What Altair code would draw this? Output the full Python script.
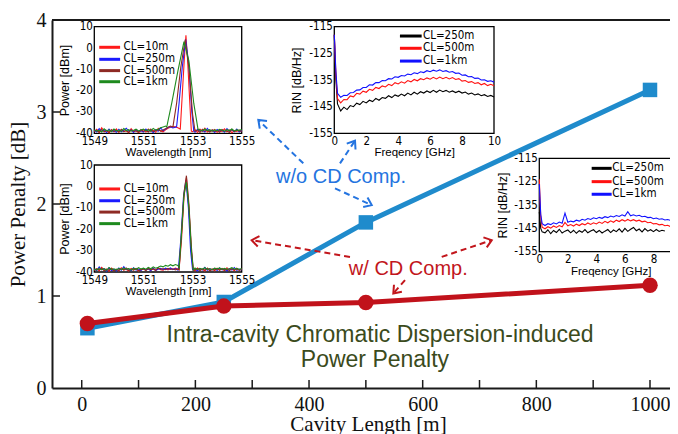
import math
import altair as alt
import pandas as pd

SERIF = "'Liberation Serif', 'Times New Roman', serif"
SANS = "'Liberation Sans', Arial, sans-serif"
NARROW = "'Liberation Sans Narrow', 'Arial Narrow', 'DejaVu Sans Condensed', 'Liberation Sans', sans-serif"

BLUE = "#1f8bcc"
RED = "#c1121b"
BLUE_T = "#2474e0"
RED_T = "#c2161c"
GREEN_T = "#3b4b1c"

# ---------------- main chart data ----------------
cavity_len = [10, 250, 500, 1000]
penalty_wo = [0.65, 0.935, 1.80, 3.24]
penalty_w = [0.70, 0.89, 0.93, 1.116]

x_ticks = [0, 100, 200, 300, 400, 500, 600, 700, 800, 900, 1000]
x_labels = [0, 200, 400, 600, 800, 1000]
y_labels = [0, 1, 2, 3, 4]
y_ticks = [1, 2, 3]

comp_text = ["w/o CD Comp.", "w/ CD Comp."]
comp_x = [456.3, 574.7]
comp_y = [2.224, 1.226]
comp_color = [BLUE_T, RED_T]

center_text = ["Intra-cavity Chromatic Dispersion-induced", "Power Penalty"]
center_x = [525, 516]
center_y = [0.50, 0.228]

arrow_x0 = [389.9, 454.5, 445.7, 472.1, 633.5, 568.9]
arrow_y0 = [2.442, 2.442, 2.170, 1.425, 1.425, 1.172]
arrow_x1 = [310.8, 480.9, 510.3, 299.1, 721.5, 548.3]
arrow_y1 = [2.913, 2.688, 1.988, 1.607, 1.607, 1.027]
arrow_col = [BLUE_T, BLUE_T, BLUE_T, RED_T, RED_T, RED_T]

# ---------------- optical spectra insets ----------------
wl = [round(1549 + 0.1 * i, 1) for i in range(61)]
spec_series = ["CL=10m", "CL=250m", "CL=500m", "CL=1km"]
spec_colors = ["#ff1a1a", "#1a1aff", "#8e2a24", "#1e8a1e"]

s1_floor_red = [-39.2,-38.1,-39.6,-37.4,-39.0,-38.6,-39.8,-38.2,-39.3,-37.9,
                -39.5,-38.4,-39.1,-38.8,-39.7,-37.8,-39.2,-38.5,-39.6,-38.9,
                -38.3,-39.4,-38.0,-39.1,-38.6,-39.5,-37.7,-38.9,-39.3,-38.4,
                -37.6,-37.2,-36.8,-37.0,-37.4,-38.5,-39.0,-38.8,-39.4,-38.1,
                -39.2,-38.3,-39.6,-38.0,-39.1,-37.6,-39.4,-38.7,-39.0,-38.2,
                -39.5,-38.6,-39.2,-37.9,-39.3,-38.4,-39.7,-38.8,-39.1,-38.5,
                -39.0]
s1_floor_blue = [-38.6,-39.4,-37.8,-39.1,-38.3,-39.7,-38.0,-39.2,-38.7,-39.5,
                 -38.1,-39.3,-38.6,-37.6,-39.0,-38.4,-39.6,-38.2,-39.1,-38.8,
                 -39.4,-38.0,-39.2,-38.5,-39.7,-38.3,-39.0,-37.5,-38.8,-38.0,
                 -37.3,-36.9,-37.5,-37.1,-36.8,-37.6,-38.4,-39.1,-38.6,-39.3,
                 -38.4,-39.5,-38.1,-39.0,-38.7,-39.4,-37.7,-39.2,-38.5,-39.6,
                 -38.2,-39.0,-38.6,-39.5,-37.8,-39.1,-38.4,-39.3,-38.0,-39.4,
                 -38.7]
s1_floor_brown = [-39.0,-38.5,-39.6,-38.2,-39.3,-38.8,-39.5,-38.4,-39.1,-38.6,
                  -39.4,-38.1,-39.2,-38.7,-39.6,-38.3,-39.0,-38.9,-39.5,-38.2,
                  -39.1,-38.6,-39.4,-38.0,-39.2,-38.7,-38.3,-39.0,-38.4,-37.9,
                  -37.2,-36.6,-36.3,-36.7,-37.0,-37.5,-38.6,-39.0,-38.5,-39.2,
                  -38.8,-39.3,-38.5,-39.6,-38.1,-39.0,-38.6,-39.4,-38.3,-39.1,
                  -38.7,-39.5,-38.2,-39.0,-38.8,-39.6,-38.1,-39.2,-38.5,-39.0,
                  -38.9]
s1_floor_green = [-38.3,-39.0,-38.6,-39.4,-37.9,-38.8,-38.4,-39.2,-38.0,-38.9,
                  -38.5,-39.1,-37.8,-38.7,-38.3,-39.0,-38.6,-38.1,-38.9,-38.4,
                  -38.0,-38.8,-38.3,-38.9,-37.7,-38.5,-38.1,-37.4,-37.0,-36.6,
                  -36.9,-37.4,-37.9,-38.3,-38.6,-38.9,-39.2,-38.5,-39.0,-38.4,
                  -38.8,-38.2,-39.1,-38.5,-38.9,-38.0,-38.7,-38.3,-39.0,-38.4,
                  -38.8,-38.1,-38.6,-39.0,-38.3,-38.7,-38.0,-38.9,-38.4,-38.6,
                  -38.2]
s1_peak_x = [[1552.50,1552.58,1552.66,1552.73,1552.80,1552.88,1552.95],
             [1552.35,1552.45,1552.58,1552.72,1552.85,1552.97,1553.05],
             [1552.20,1552.35,1552.52,1552.70,1552.86,1553.00,1553.10],
             [1551.95,1552.15,1552.40,1552.65,1552.85,1553.05,1553.22]]
s1_peak_y = [[-38,-22,-6,6,-6,-24,-39],
             [-37,-26,-9,4,-8,-30,-39],
             [-37,-26,-9,4,-10,-31,-39],
             [-37,-26,-11,3,-6,-26,-38]]

s2_floor_red = [-39.1,-38.4,-39.5,-37.8,-39.0,-38.6,-39.6,-38.2,-39.2,-38.9,
                -39.4,-38.0,-39.1,-38.7,-39.5,-38.3,-39.0,-38.5,-39.6,-38.8,
                -38.4,-39.2,-38.1,-39.0,-38.6,-39.3,-38.2,-38.9,-39.1,-38.5,
                -39.0,-38.4,-38.8,-38.2,-38.6,-39.0,-38.7,-39.3,-38.5,-39.1,
                -38.4,-39.4,-38.1,-39.0,-38.7,-39.5,-38.3,-39.2,-38.6,-39.4,
                -38.2,-39.0,-38.7,-39.3,-38.0,-39.1,-38.5,-39.4,-38.2,-39.0,
                -38.6]
s2_floor_blue = [-38.7,-39.3,-37.6,-39.0,-38.4,-39.6,-38.1,-39.3,-38.8,-39.5,
                 -38.2,-39.2,-37.5,-38.9,-38.5,-39.4,-38.0,-39.1,-38.6,-39.3,
                 -38.3,-39.0,-38.6,-39.4,-38.1,-39.2,-38.7,-38.3,-38.9,-38.2,
                 -38.7,-38.1,-38.9,-38.4,-39.1,-38.5,-39.0,-38.6,-39.4,-38.2,
                 -39.0,-38.6,-39.5,-38.3,-39.1,-37.8,-39.2,-38.5,-39.0,-38.3,
                 -39.3,-38.1,-39.0,-38.6,-39.5,-38.4,-39.1,-37.9,-39.2,-38.6,
                 -39.0]
s2_floor_brown = [-39.3,-38.6,-39.0,-38.2,-39.4,-38.8,-39.1,-38.4,-39.5,-38.7,
                  -39.2,-38.5,-39.0,-38.1,-39.3,-38.7,-39.1,-38.3,-39.4,-38.9,
                  -38.6,-39.3,-38.4,-39.0,-38.5,-39.2,-38.0,-38.8,-38.4,-38.9,
                  -38.3,-38.8,-38.5,-39.0,-38.6,-39.2,-38.8,-39.1,-38.6,-39.3,
                  -38.7,-39.0,-38.4,-39.3,-38.6,-39.1,-38.2,-39.4,-38.8,-39.0,
                  -38.5,-39.2,-38.3,-39.1,-38.7,-39.3,-38.4,-39.0,-38.6,-39.2,
                  -38.8]
s2_floor_green = [-38.5,-39.1,-38.2,-38.9,-38.4,-39.2,-37.9,-38.8,-38.5,-39.0,
                  -38.3,-38.9,-38.1,-38.7,-38.4,-39.1,-38.2,-38.8,-38.0,-38.6,
                  -38.2,-38.7,-37.9,-38.5,-37.6,-38.2,-37.8,-37.2,-37.6,-36.9,
                  -37.3,-36.6,-37.1,-36.5,-36.9,-37.0,-36.8,-37.3,-37.8,-38.3,
                  -38.6,-38.1,-38.9,-38.3,-38.7,-38.0,-38.8,-38.4,-38.9,-38.2,
                  -38.6,-38.1,-38.8,-38.3,-38.7,-38.5,-38.0,-38.7,-38.3,-38.8,
                  -38.4]
s2_peak_x = [[1552.45,1552.55,1552.65,1552.75,1552.85,1552.95,1553.02],
             [1552.42,1552.52,1552.63,1552.73,1552.83,1552.92,1553.00],
             [1552.45,1552.55,1552.65,1552.75,1552.85,1552.95,1553.03],
             [1552.45,1552.55,1552.65,1552.75,1552.85,1552.95,1553.03]]
s2_peak_y = [[-39,-25,-5,4,-10,-30,-39],
             [-39,-25,-5,3,-10,-30,-39],
             [-39,-22,-3,5,-8,-28,-39],
             [-38,-22,-4,2,-10,-30,-39]]

# ---------------- RIN insets ----------------
freq = [0.0, 0.1] + [round(0.2 * i, 1) for i in range(1, 51)]
rin_series = ["CL=250m", "CL=500m", "CL=1km"]
rin_colors = ["#000000", "#ff1010", "#1010ff"]

r1_black = [-118.0, -135.0, -144.0,
            -146.6, -145.2, -146.1, -144.6, -145.0, -143.7, -144.2, -143.0, -143.6,
            -142.6, -143.1, -141.9, -142.6, -141.6, -141.9, -140.9, -141.6, -140.6, -141.1,
            -140.3, -140.9, -139.9, -140.6, -139.6, -140.3, -139.4, -139.9, -139.1, -139.7,
            -138.9, -139.6, -138.8, -139.4, -138.9, -139.6, -139.1, -139.7, -139.2, -139.9,
            -139.5, -140.3, -139.9, -140.6, -140.2, -140.9, -140.5, -141.2, -140.8, -141.4]
r1_red = [-118.0, -133.0, -142.0,
          -143.6, -142.3, -142.4, -141.0, -141.3, -140.0, -140.3, -139.2, -139.6,
          -138.5, -138.9, -137.8, -138.2, -137.2, -137.6, -136.6, -137.1, -136.0, -136.5,
          -135.7, -136.2, -135.2, -135.7, -134.8, -135.3, -134.5, -134.9, -134.2, -134.7,
          -134.0, -134.6, -133.9, -134.5, -134.0, -134.6, -134.1, -134.8, -134.5, -135.4,
          -135.2, -135.9, -135.6, -136.3, -136.0, -136.8, -136.3, -137.1, -136.6, -137.2]
r1_blue = [-118.0, -132.0, -140.0,
           -141.5, -140.7, -140.8, -139.8, -139.7, -138.8, -138.7, -137.8, -137.8,
           -136.8, -136.9, -136.0, -136.0, -135.2, -135.3, -134.5, -134.6, -133.8, -134.0,
           -133.3, -133.5, -132.8, -133.0, -132.3, -132.6, -131.9, -132.2, -131.5, -131.9,
           -131.3, -131.7, -131.2, -131.8, -131.5, -132.1, -131.8, -132.5, -132.4, -133.2,
           -133.1, -133.8, -133.7, -134.4, -134.3, -135.0, -134.9, -135.5, -135.3, -135.8]

r2_black = [-138.0, -145.0, -146.5,
            -146.9, -145.6, -147.3, -145.9, -146.8, -145.4, -147.0, -146.2, -145.7,
            -146.9, -145.8, -147.1, -146.0, -146.7, -145.5, -146.9, -146.1, -145.6, -146.8,
            -145.9, -147.0, -146.2, -145.5, -146.8, -145.7, -146.4, -145.2, -146.6, -145.0,
            -146.3, -145.4, -144.6, -146.0, -145.3, -146.5, -145.1, -146.2, -145.6, -146.4,
            -145.5, -146.3, -145.8, -146.1, None, None, None, None, None, None]
r2_red = [-124.0, -140.0, -144.5,
          -145.2, -144.3, -144.9, -144.0, -144.6, -143.8, -144.3, -142.5, -143.9,
          -143.4, -144.0, -143.2, -143.8, -143.0, -143.5, -142.7, -143.3, -142.6, -143.1,
          -142.3, -142.9, -142.0, -142.6, -141.8, -142.4, -141.5, -142.1, -141.3, -141.9,
          -141.2, -141.8, -141.3, -141.9, -141.5, -142.2, -141.9, -142.6, -142.4, -143.1,
          -142.9, -143.5, -143.3, -143.9, -143.7, -144.3, -144.0, -144.6, -144.2, -144.5]
r2_blue = [-126.0, -139.0, -143.0,
           -143.8, -143.0, -143.4, -142.6, -143.1, -142.3, -142.8, -138.5, -142.4,
           -141.9, -142.2, -141.5, -141.9, -141.1, -141.5, -140.8, -141.2, -140.5, -140.9,
           -140.3, -140.7, -140.0, -140.4, -139.7, -140.1, -139.5, -139.9, -139.2, -139.7,
           -137.9, -139.6, -139.2, -139.7, -139.4, -140.0, -139.8, -140.4, -140.3, -140.9,
           -140.6, -141.1, -140.9, -141.4, -141.2, -141.6, -141.4, -141.8, -141.5, -141.8]

for arr in (r1_black, r1_red, r1_blue, r2_black, r2_red, r2_blue):
    assert len(arr) == len(freq), len(arr)
for arr in (s1_floor_red, s1_floor_blue, s1_floor_brown, s1_floor_green,
            s2_floor_red, s2_floor_blue, s2_floor_brown, s2_floor_green):
    assert len(arr) == len(wl), len(arr)

# ---------------- geometry ----------------
W, H = 618, 368
XDOM = [-52.3, 1035.2]
YDOM = [0, 4]
SPEC_X = [1549, 1555]
SPEC_Y = [-40, 10]
RIN_X = [0, 10]
RIN_Y = [-155, -115]

xs_main = alt.Scale(domain=XDOM, nice=False, zero=False)
ys_main = alt.Scale(domain=YDOM, nice=False, zero=False)
XAX = alt.Axis(orient="bottom", values=x_labels, format="d", domain=True,
               domainColor="#1a1a1a", domainWidth=2, ticks=False, grid=False,
               labelFont=SERIF, labelFontSize=20, labelColor="#111111",
               labelPadding=6, labelFlush=False, labelOverlap=False,
               title="Cavity Length [m]", titleFont=SERIF, titleFontSize=21,
               titleFontWeight="normal", titleColor="#111111", titleX=316,
               titleY=42, titleBaseline="alphabetic", titleAlign="center")
YAX = alt.Axis(orient="left", values=y_labels, format="d", domain=True,
               domainColor="#1a1a1a", domainWidth=2, ticks=False, grid=False,
               labelFont=SERIF, labelFontSize=20, labelColor="#111111",
               labelPadding=6, labelFlush=False, labelOverlap=False,
               title="Power Penalty [dB]", titleFont=SERIF, titleFontSize=21,
               titleFontWeight="normal", titleColor="#111111", titleX=-34,
               titleY=184, titleAngle=270, titleBaseline="middle",
               titleAlign="center")


def mx(f):
    return alt.X(f, type="quantitative", scale=xs_main, axis=XAX)


def my(f):
    return alt.Y(f, type="quantitative", scale=ys_main, axis=YAX)


top_rule = alt.Chart(pd.DataFrame({"y": [4]})).mark_rule(
    color="#1a1a1a", strokeWidth=2).encode(y=my("y"))
xtick = alt.Chart(pd.DataFrame({"x": x_ticks})).mark_rule(
    color="#1a1a1a", strokeWidth=1.5).encode(x=mx("x"), y=alt.value(H), y2=alt.value(H - 8))
ytick = alt.Chart(pd.DataFrame({"y": y_ticks})).mark_rule(
    color="#1a1a1a", strokeWidth=1.5).encode(y=my("y"), x=alt.value(0), x2=alt.value(8))

df_wo = pd.DataFrame({"x": cavity_len, "y": penalty_wo})
df_w = pd.DataFrame({"x": cavity_len, "y": penalty_w})
blue_line = alt.Chart(df_wo).mark_line(color=BLUE, strokeWidth=5).encode(x=mx("x"), y=my("y"))
blue_pts = alt.Chart(df_wo).mark_square(color=BLUE, size=210, opacity=1).encode(x=mx("x"), y=my("y"))
red_line = alt.Chart(df_w).mark_line(color=RED, strokeWidth=5).encode(x=mx("x"), y=my("y"))
red_pts = alt.Chart(df_w).mark_circle(color=RED, size=240, opacity=1).encode(x=mx("x"), y=my("y"))

SXP = W / (XDOM[1] - XDOM[0])
SYP = H / (YDOM[1] - YDOM[0])
angles = []
for a, b, c, d in zip(arrow_x0, arrow_y0, arrow_x1, arrow_y1):
    dx = (c - a) * SXP
    dy = -(d - b) * SYP
    angles.append(math.degrees(math.atan2(dy, dx)) % 360)

df_arrow = pd.DataFrame({"x": arrow_x0, "y": arrow_y0, "x2": arrow_x1,
                         "y2": arrow_y1, "c": arrow_col, "ang": angles})
arrow_lines = alt.Chart(df_arrow).mark_rule(strokeWidth=2, strokeDash=[6, 4]).encode(
    x=mx("x"), y=my("y"), x2="x2", y2="y2", color=alt.Color("c:N", scale=None))
arrow_heads = alt.Chart(df_arrow).mark_point(
    shape="M-1,-0.75L0,0L-1,0.75", filled=False, strokeWidth=2, size=196, opacity=1).encode(
    x=mx("x2"), y=my("y2"), color=alt.Color("c:N", scale=None),
    angle=alt.Angle("ang:Q", scale=None))

df_comp = pd.DataFrame({"t": comp_text, "x": comp_x, "y": comp_y, "c": comp_color})
comp_marks = alt.Chart(df_comp).mark_text(
    font=SANS, fontSize=20, align="center", baseline="alphabetic").encode(
    x=mx("x"), y=my("y"), text="t:N", color=alt.Color("c:N", scale=None))
df_center = pd.DataFrame({"t": center_text, "x": center_x, "y": center_y})
center_marks = alt.Chart(df_center).mark_text(
    font=SANS, fontSize=23, align="center", baseline="alphabetic", color=GREEN_T).encode(
    x=mx("x"), y=my("y"), text="t:N")

main = alt.layer(top_rule, xtick, ytick, blue_line, blue_pts, red_line, red_pts,
                 arrow_lines, arrow_heads, comp_marks, center_marks)


def make_inset(curves, names, colors, xdom, ydom, xr, yr, xvals, yvals,
               xtitle, ytitle, x_off, y_off, ytitle_pad, leg_x0, leg_x1, leg_xt, leg_y):
    xs = alt.Scale(domain=xdom, range=xr, nice=False, zero=False)
    ys = alt.Scale(domain=ydom, range=yr, nice=False, zero=False)
    xa = alt.Axis(orient="bottom", offset=x_off, values=xvals,
                  labelExpr="toString(datum.value)", domain=False, ticks=False,
                  grid=False, labelFont=NARROW, labelFontSize=11.5,
                  labelColor="black", labelPadding=2, labelFlush=False,
                  labelOverlap=False, title=xtitle, titleFont=SANS,
                  titleFontSize=11.5, titleFontWeight="normal",
                  titleColor="black", titlePadding=0, zindex=1)
    ya = alt.Axis(orient="left", offset=y_off, values=yvals,
                  labelExpr="toString(datum.value)", domain=False, ticks=False,
                  grid=False, labelFont=NARROW, labelFontSize=11.5,
                  labelColor="black", labelPadding=2, labelFlush=False,
                  labelOverlap=False, title=ytitle, titleFont=SANS,
                  titleFontSize=12.5, titleFontWeight="normal",
                  titleColor="black", titlePadding=ytitle_pad, zindex=1)

    def ex(f):
        return alt.X(f, type="quantitative", scale=xs, axis=xa)

    def ey(f):
        return alt.Y(f, type="quantitative", scale=ys, axis=ya)

    frame = alt.Chart(pd.DataFrame({"x0": [xdom[0]], "x1": [xdom[1]],
                                    "y0": [ydom[0]], "y1": [ydom[1]]})).mark_rect(
        fill="white", stroke="black", strokeWidth=1.3).encode(
        x=ex("x0"), x2="x1", y=ey("y0"), y2="y1")
    layers = [frame]
    for (cx, cy), col in zip(curves, colors):
        d = pd.DataFrame({"x": cx, "y": cy})
        layers.append(alt.Chart(d).mark_line(color=col, strokeWidth=1.1).encode(
            x=ex("x"), y=ey("y")))
    leg = pd.DataFrame({"x0": [leg_x0] * len(names), "x1": [leg_x1] * len(names),
                        "xt": [leg_xt] * len(names), "y": leg_y, "t": names, "c": colors})
    layers.append(alt.Chart(leg).mark_rule(strokeWidth=3).encode(
        x=ex("x0"), x2="x1", y=ey("y"), color=alt.Color("c:N", scale=None)))
    layers.append(alt.Chart(leg).mark_text(
        font=NARROW, fontSize=11.5, align="left", baseline="middle", color="black").encode(
        x=ex("xt"), y=ey("y"), text="t:N"))
    return alt.layer(*layers)


def spectrum(floor, px, py):
    lo, hi = px[0], px[-1]
    pts = [(w, v) for w, v in zip(wl, floor) if w < lo or w > hi]
    pts += list(zip(px, py))
    pts.sort()
    return [p[0] for p in pts], [p[1] for p in pts]


s1_floors = [s1_floor_red, s1_floor_blue, s1_floor_brown, s1_floor_green]
s2_floors = [s2_floor_red, s2_floor_blue, s2_floor_brown, s2_floor_green]
s1_curves = [spectrum(f, px, py) for f, px, py in zip(s1_floors, s1_peak_x, s1_peak_y)]
s2_curves = [spectrum(f, px, py) for f, px, py in zip(s2_floors, s2_peak_x, s2_peak_y)]
r1_curves = [(freq, r1_black), (freq, r1_red), (freq, r1_blue)]
r2_curves = [(freq, r2_black), (freq, r2_red), (freq, r2_blue)]

spec_xvals = [1549, 1551, 1553, 1555]
spec_yvals = [-40, -30, -20, -10, 0, 10]
rin_xvals = [0, 2, 4, 6, 8, 10]
rin_yvals = [-155, -145, -135, -125, -115]

in1 = make_inset(s1_curves, spec_series, spec_colors, SPEC_X, SPEC_Y,
                 [42.3, 189.7], [113.3, 6.7], spec_xvals, spec_yvals,
                 "Wavelength [nm]", "Power [dBm]", -254.7, -42.3, 4,
                 1549.2, 1550.05, 1550.19, [0.34, -5.3, -10.6, -15.8])
in2 = make_inset(s2_curves, spec_series, spec_colors, SPEC_X, SPEC_Y,
                 [42.3, 189.7], [252.0, 145.0], spec_xvals, spec_yvals,
                 "Wavelength [nm]", "Power [dBm]", -116.0, -42.3, 4,
                 1549.2, 1550.05, 1550.2, [-1.2, -6.7, -12.0, -17.4])
in3 = make_inset(r1_curves, rin_series, rin_colors, RIN_X, RIN_Y,
                 [282.3, 442.0], [113.3, 6.7], rin_xvals, rin_yvals,
                 "Freqency [GHz]", "RIN [dB/Hz]", -254.7, -282.3, 5,
                 4.11, 5.47, 5.55, [-118.5, -123.1, -127.9])
in4 = make_inset(r2_curves, rin_series, rin_colors, RIN_X, RIN_Y,
                 [487.3, 630.0], [231.7, 138.3], rin_xvals, rin_yvals,
                 "Freqency [GHz]", "RIN [dB/Hz]", -136.3, -487.3, 4,
                 3.67, 5.07, 5.12, [-119.3, -125.0, -130.4])

chart = alt.layer(main, in1, in2, in3, in4).resolve_scale(
    x="independent", y="independent"
).properties(
    width=W, height=H,
    autosize=alt.AutoSizeParams(type="none"),
    padding={"left": 44, "top": 12, "right": 0, "bottom": 46},
).configure_view(stroke=None)

chart.save("out.html", embed_options={"renderer": "svg", "actions": False})
